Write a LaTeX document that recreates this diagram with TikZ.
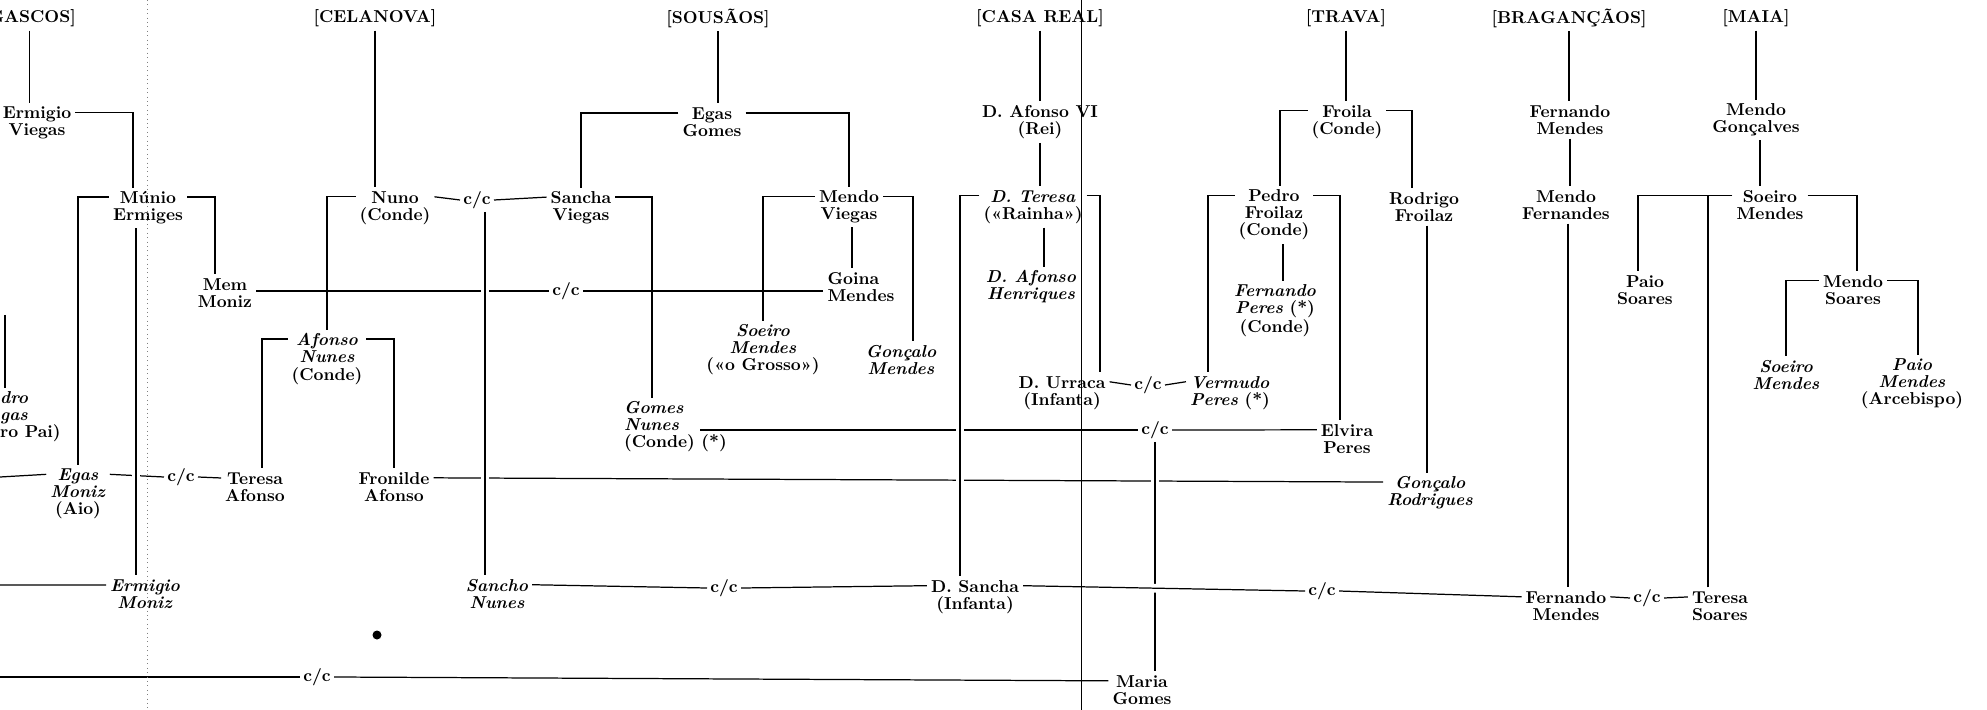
\documentclass[tikz,border=0pt]{standalone}
\usepackage{tikz}
\usetikzlibrary{calc}

\begin{document}
\begin{tikzpicture}[x=0.2mm, y=-0.2mm, line width=0.7pt,
  every node/.style={font=\fontsize{9.8}{9.7}\selectfont\bfseries, align=center, inner sep=2pt},
  cc/.style={inner sep=1.5pt},
  lft/.style={align=left, anchor=west},
  bridge/.style={preaction={draw=white, line width=5pt}}]
\useasboundingbox (0,0) rectangle (1987,710);
\clip (0,0) rectangle (1987,710);

\node[anchor=east] (gascos) at (80,18) {[GASCOS]};
\node (celanova) at (375,18) {[CELANOVA]};
\node (sousaos) at (718,18) {[SOUSÃOS]};
\node (casareal) at (1040,18) {[CASA REAL]};
\node (trava) at (1346,18) {[TRAVA]};
\node (bragancaos) at (1569,18) {[BRAGANÇÃOS]};
\node (maia) at (1756,18) {[MAIA]};

\node (ermv) at (37,123) {Ermigio\\Viegas};
\node (egasg) at (712,122) {Egas\\Gomes};
\node (afonso6) at (1040,122) {D. Afonso VI\\(Rei)};
\node (froila) at (1347,122) {Froila\\(Conde)};
\node (fm1) at (1570,120) {Fernando\\Mendes};
\node (mg) at (1756,120) {Mendo\\Gonçalves};

\node (munio) at (148,208) {Múnio\\Ermiges};
\node (nuno) at (395,208) {Nuno\\(Conde)};
\node[cc] (ccns) at (477,200) {c/c};
\node (sancha) at (581,208) {Sancha\\Viegas};
\node (mv) at (849,207) {Mendo\\Viegas};
\node (teresa) at (1033,207) {\textit{D. Teresa}\\(«Rainha»)};
\node (pedro) at (1274,215) {Pedro\\Froilaz\\(Conde)};
\node (rodrigo) at (1424,207) {Rodrigo\\Froilaz};
\node (mf) at (1566,205) {Mendo\\Fernandes};
\node (sm) at (1770,205) {Soeiro\\Mendes};

\node (mem) at (225,293) {Mem\\Moniz};
\node[cc] (ccmg) at (566,291) {c/c};
\node[align=left] (goina) at (861,287) {Goina\\Mendes};
\node (henriques) at (1031,287) {\textit{D. Afonso}\\\textit{Henriques}};
\node (fp) at (1275,311) {\textit{Fernando}\\\textit{Peres} (*)\\(Conde)};
\node (paios) at (1645,290) {Paio\\Soares};
\node (ms) at (1853,290) {Mendo\\Soares};

\node (an) at (327,359) {\textit{Afonso}\\\textit{Nunes}\\(Conde)};
\node (sgrosso) at (763,350) {\textit{Soeiro}\\\textit{Mendes}\\(«o Grosso»)};
\node (gm) at (901,360) {\textit{Gonçalo}\\\textit{Mendes}};
\node (urraca) at (1062,393) {D. Urraca\\(Infanta)};
\node[cc] (ccuv) at (1148,385) {c/c};
\node (vermudo) at (1230,393) {\textit{Vermudo}\\\textit{Peres} (*)};
\node (sm2) at (1786,375) {\textit{Soeiro}\\\textit{Mendes}};
\node (pm) at (1912,384) {\textit{Paio}\\\textit{Mendes}\\(Arcebispo)};

\node[lft] (pv) at (-4,417) {\textit{dro}\\\textit{gas}\\ro Pai)};
\node[lft] (gomes) at (620,427) {\textit{Gomes}\\\textit{Nunes}\\(Conde) (*)};
\node[cc] (ccge) at (1155,430) {c/c};
\node (elvira) at (1347,439) {Elvira\\Peres};

\node (egasm) at (78,494) {\textit{Egas}\\\textit{Moniz}\\(Aio)};
\node[cc] (cce) at (181,477) {c/c};
\node (teresaa) at (255,487) {Teresa\\Afonso};
\node (fronilde) at (394,487) {Fronilde\\Afonso};
\node (goncalor) at (1430,493) {\textit{Gonçalo}\\\textit{Rodrigues}};

\node (ermm) at (145,594) {\textit{Ermigio}\\\textit{Moniz}};
\node (sancho) at (497,594) {\textit{Sancho}\\\textit{Nunes}};
\node[cc] (ccsd) at (724,588) {c/c};
\node (dsancha) at (975,597) {D. Sancha\\(Infanta)};
\node[cc] (ccsf) at (1322,591) {c/c};
\node (fm2) at (1566,606) {Fernando\\Mendes};
\node[cc] (ccft) at (1647,598) {c/c};
\node (ts) at (1720,606) {Teresa\\Soares};

\node[cc] (ccb) at (317,677) {c/c};
\node (maria) at (1142,690) {Maria\\Gomes};

\coordinate (offe) at (0,477);
\coordinate (offm) at (0,585);
\coordinate (offb) at (0,677);
\coordinate (pvtop) at (5,315);

\draw (gascos.south) -- (gascos.south |- ermv.north);
\draw (celanova.south) -- (celanova.south |- nuno.north);
\draw (sousaos.south) -- (sousaos.south |- egasg.north);
\draw (casareal.south) -- (casareal.south |- afonso6.north);
\draw (trava.south) -- (trava.south |- froila.north);
\draw (bragancaos.south) -- (bragancaos.south |- fm1.north);
\draw (maia.south) -- (maia.south |- mg.north);

\draw ([yshift=-1.9mm]ermv.north east) -| ($(munio.north)+(-15,0)$);
\draw ([yshift=-1.9mm]egasg.north west) -| (sancha.north);
\draw ([yshift=-1.9mm]egasg.north east) -| (mv.north);
\draw (afonso6.south) -- (afonso6.south |- teresa.north);
\draw ([yshift=-1.9mm]froila.north west) -| ($(pedro.north)+(6,0)$);
\draw ([yshift=-1.9mm]froila.north east) -| ($(rodrigo.north)+(-12,0)$);
\draw (fm1.south) -- (fm1.south |- mf.north);
\draw ($(mg.south)+(4,0)$) -- ($(mg.south |- sm.north)+(4,0)$);

\draw ([yshift=-1.9mm]munio.north west) -| (egasm.north);
\draw ([yshift=-1.9mm]munio.north east) -| ($(mem.north)+(-10,0)$);
\draw ([yshift=-1.9mm]nuno.north west) -| (an.north);
\draw ([yshift=-1.9mm]nuno.north east) -- (ccns.west);
\draw (ccns.east) -- ([yshift=-1.9mm]sancha.north west);
\draw ([yshift=-1.9mm]sancha.north east) -| ($(gomes.north west)+(32,0)$);
\draw ([yshift=-1.9mm]mv.north west) -| (sgrosso.north);
\draw ([yshift=-1.9mm]mv.north east) -| ($(gm.north)+(12,0)$);
\draw ($(mv.south)+(3,0)$) -- ($(mv.south |- goina.north)+(3,0)$);
\draw ($(teresa.south)+(11,0)$) -- ($(teresa.south |- henriques.north)+(11,0)$);
\draw ([yshift=-1.9mm]teresa.north east) -| ($(urraca.north)+(38,0)$);
\draw ([yshift=-1.9mm]pedro.north west) -| ($(vermudo.north)+(-22,0)$);
\draw ([yshift=-1.9mm]pedro.north east) -| ($(elvira.north)+(-7,0)$);
\draw ($(pedro.south)+(9,0)$) -- ($(pedro.south |- fp.north)+(9,0)$);
\draw ($(rodrigo.south)+(3,0)$) -- ($(rodrigo.south |- goncalor.north)+(3,0)$);
\draw ($(mf.south)+(2,0)$) -- ($(mf.south |- fm2.north)+(2,0)$);
\draw ([yshift=-1.9mm]sm.north west) -| ($(paios.north)+(-7,0)$);
\draw ($(ts.north)+(-12,0)$) |- ([yshift=-1.9mm]sm.north west);
\draw ([yshift=-1.9mm]sm.north east) -| ($(ms.north)+(4,0)$);
\draw ([yshift=-1.9mm]ms.north west) -| (sm2.north);
\draw ([yshift=-1.9mm]ms.north east) -| ($(pm.north)+(6,0)$);

\draw (mem.east |- ccmg.west) -- (ccmg.west);
\draw (ccmg.east) -- (ccmg.east -| goina.west);
\draw ([yshift=-1.9mm]an.north west) -| ($(teresaa.north)+(7,0)$);
\draw ([yshift=-1.9mm]an.north east) -| (fronilde.north);
\draw ([yshift=-1.9mm]urraca.north east) -- (ccuv.west);
\draw (ccuv.east) -- ([yshift=-1.9mm]vermudo.north west);
\draw ($(gomes.west |- ccge.west)+(80,0)$) -- (ccge.west);
\draw (ccge.east) -- ([yshift=-1.9mm]elvira.north west);
\draw (pvtop) -- (pvtop |- pv.north);

\draw (offe) -- ([yshift=-1.9mm]egasm.north west);
\draw ([yshift=-1.9mm]egasm.north east) -- (cce.west);
\draw (cce.east) -- ([yshift=-1.9mm]teresaa.north west);
\draw ([yshift=-1.9mm]fronilde.north east) -- ([yshift=-1.9mm]goncalor.north west);
\draw (offm) -- ([yshift=-1.9mm]ermm.north west);
\draw ([yshift=-1.9mm]sancho.north east) -- (ccsd.west);
\draw (ccsd.east) -- ([yshift=-1.9mm]dsancha.north west);
\draw (ccsf.east) -- ([yshift=-1.9mm]fm2.north west);
\draw ([yshift=-1.9mm]fm2.north east) -- (ccft.west);
\draw (ccft.east) -- ([yshift=-1.9mm]ts.north west);
\draw (offb) -- (ccb.west);
\draw (ccb.east) -- ([yshift=-1.9mm]maria.north west);

\draw[bridge] ($(munio.south)+(-12,0)$) -- ($(munio.south |- ermm.north)+(-12,0)$);
\draw[bridge] ($(ccns.south)+(8,0)$) -- ($(ccns.south |- sancho.north)+(8,0)$);
\draw[bridge] ([yshift=-1.9mm]teresa.north west) -| ($(dsancha.north)+(-15,0)$);
\draw[bridge] (ccge.south) -- (ccge.south |- maria.north);
\draw[bridge] ([yshift=-1.9mm]dsancha.north east) -- (ccsf.west);

\fill (377,635) circle (0.9mm);
\draw[gray, dotted, line width=0.5pt] (147,0) -- (147,710);
\draw[line width=0.5pt] (1081,0) -- (1081,710);
\end{tikzpicture}
\end{document}
